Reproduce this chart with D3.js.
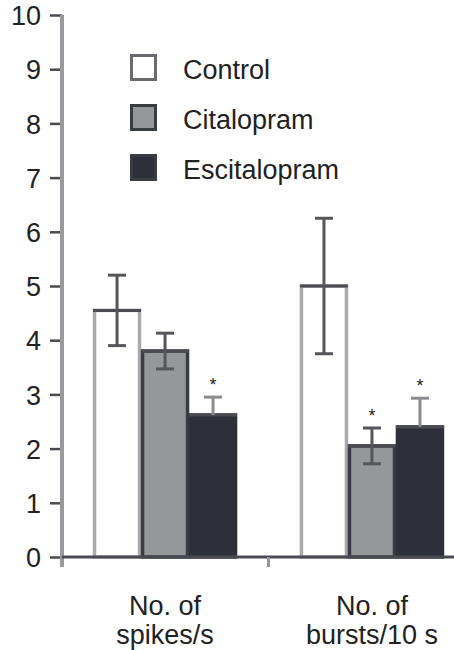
<!DOCTYPE html>
<html>
<head>
<meta charset="utf-8">
<script src="https://cdn.jsdelivr.net/npm/d3@7"></script>
<style>
  body { margin: 0; background: #fff; }
  text { font-family: "Liberation Sans", Arial, sans-serif; }
</style>
</head>
<body>
<div id="chart"></div>
<script>
// Data
const groups = ["spikes", "bursts"];
const groupLabels = [["No. of", "spikes/s"], ["No. of", "bursts/10 s"]];
const series = ["Control", "Citalopram", "Escitalopram"];
const means = [[4.55, 3.8, 2.62], [5.0, 2.05, 2.4]];
const errors = [[0.65, 0.33, 0.33], [1.25, 0.33, 0.53]];
const significant = [[false, false, true], [false, true, true]];
const yTicks = [0, 1, 2, 3, 4, 5, 6, 7, 8, 9, 10];

const fills = ["#ffffff", "#96979b", "#2d3038"];
const strokes = ["#aaaaaa", "#3a3c44", "#2d3038"];

const width = 454, height = 650;
const axisX = 62;

const svg = d3.select("#chart")
  .append("svg")
  .attr("width", width)
  .attr("height", height);

// Scales
const y = d3.scaleLinear().domain([0, 10]).range([557, 15]);

const x0 = d3.scaleBand()
  .domain(groups)
  .range([axisX, axisX + 413])
  .paddingInner(0.304)
  .paddingOuter(0.15);

const x1 = d3.scaleBand()
  .domain(series)
  .range([0, x0.bandwidth()]);

// Y axis
const yAxis = svg.append("g")
  .attr("transform", `translate(${axisX},0)`)
  .call(d3.axisLeft(y).tickValues(yTicks).tickSize(12).tickPadding(9));
yAxis.select(".domain").remove();
yAxis.selectAll(".tick line").attr("stroke", "#4a4b50").attr("stroke-width", 2.5);
yAxis.selectAll(".tick text")
  .attr("font-size", 27)
  .attr("fill", "#222")
  .attr("dy", "0.36em");
yAxis.append("line")
  .attr("x1", 0).attr("x2", 0)
  .attr("y1", y(10)).attr("y2", y(0) + 10)
  .attr("stroke", "#9a9a9e")
  .attr("stroke-width", 4);

// Bars
const gGroups = svg.selectAll(".group")
  .data(groups)
  .enter().append("g")
  .attr("class", "group")
  .attr("transform", d => `translate(${x0(d)},0)`);

gGroups.each(function(g, gi) {
  const sel = d3.select(this);
  series.forEach((s, si) => {
    const v = means[gi][si];
    sel.append("rect")
      .attr("x", x1(s) + 1.5)
      .attr("y", y(v))
      .attr("width", x1.bandwidth() - 3)
      .attr("height", y(0) - y(v))
      .attr("fill", fills[si])
      .attr("stroke", strokes[si])
      .attr("stroke-width", 3.5);
    // darker top edge
    sel.append("line")
      .attr("x1", x1(s)).attr("x2", x1(s) + x1.bandwidth())
      .attr("y1", y(v)).attr("y2", y(v))
      .attr("stroke", "#4a4b52")
      .attr("stroke-width", 3);

    // Error bars (lower half hidden on the dark bar)
    const cx = x1(s) + x1.bandwidth() / 2;
    const e = errors[gi][si];
    const dark = si === 2;
    const errColor = dark ? "#8a8b90" : "#55565c";
    sel.append("line")
      .attr("x1", cx).attr("x2", cx)
      .attr("y1", dark ? y(v) : y(v - e)).attr("y2", y(v + e))
      .attr("stroke", errColor)
      .attr("stroke-width", 3);
    (dark ? [v + e] : [v - e, v + e]).forEach(t => {
      sel.append("line")
        .attr("x1", cx - 9).attr("x2", cx + 9)
        .attr("y1", y(t)).attr("y2", y(t))
        .attr("stroke", errColor)
        .attr("stroke-width", 3);
    });

    if (significant[gi][si]) {
      sel.append("text")
        .attr("x", cx)
        .attr("y", y(v + e) - 6)
        .attr("text-anchor", "middle")
        .attr("font-size", 18)
        .attr("fill", "#222")
        .text("*");
    }
  });
});

// X axis
svg.append("line")
  .attr("x1", axisX).attr("x2", width)
  .attr("y1", y(0)).attr("y2", y(0))
  .attr("stroke", "#4a4b52")
  .attr("stroke-width", 3);

const midX = (x0(groups[0]) + x0.bandwidth() + x0(groups[1])) / 2;
svg.append("line")
  .attr("x1", midX).attr("x2", midX)
  .attr("y1", y(0)).attr("y2", y(0) + 10)
  .attr("stroke", "#9a9a9e")
  .attr("stroke-width", 3);

// X labels
groups.forEach((g, gi) => {
  const t = svg.append("text")
    .attr("text-anchor", "middle")
    .attr("font-size", 27)
    .attr("fill", "#222");
  groupLabels[gi].forEach((line, li) => {
    t.append("tspan")
      .attr("x", x0(g) + x0.bandwidth() / 2)
      .attr("y", 615 + li * 29)
      .text(line);
  });
});

// Legend
const legendY = d3.scalePoint().domain(series).range([54, 154]);
series.forEach((s, si) => {
  svg.append("rect")
    .attr("x", 131.5).attr("y", legendY(s) + 1.5)
    .attr("width", 24).attr("height", 24)
    .attr("fill", fills[si])
    .attr("stroke", si === 0 ? "#6a6b70" : "#3a3c44")
    .attr("stroke-width", 3);
  svg.append("text")
    .attr("x", 183)
    .attr("y", legendY(s) + 25)
    .attr("font-size", 27)
    .attr("fill", "#222")
    .text(s);
});
</script>
</body>
</html>
